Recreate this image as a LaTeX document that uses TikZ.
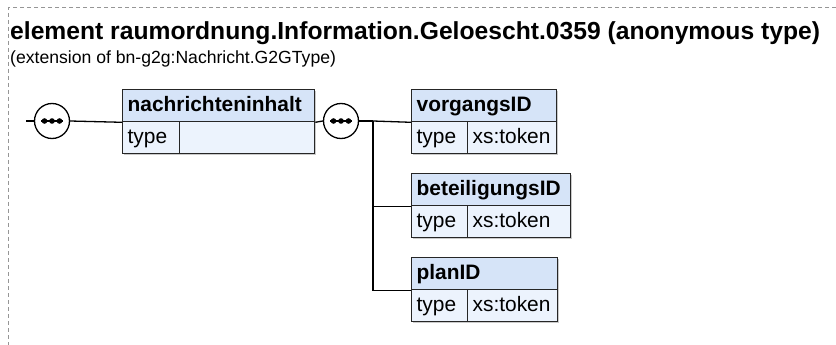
\documentclass[tikz,border=0pt]{standalone}
\usepackage{fontspec}
\setmainfont{Liberation Sans}
\usetikzlibrary{shadows}
\definecolor{hdrblue}{RGB}{214,228,248}
\definecolor{rowblue}{RGB}{236,243,253}
\definecolor{frame}{RGB}{150,150,150}
\tikzset{
  cell/.style={draw=black!85, line width=1.3pt, rectangle, anchor=north west,
    minimum height=32pt, inner xsep=5pt, inner ysep=0pt, align=left,
    text height=16pt, text depth=4pt,
    drop shadow={shadow xshift=1.5pt, shadow yshift=-1.5pt, fill=black!35, opacity=0.6}},
  hdrcell/.style={cell, fill=hdrblue, font=\fontsize{20.9}{24}\selectfont\bfseries},
  rowcell/.style={cell, fill=rowblue, font=\fontsize{20.9}{24}\selectfont},
  seqnode/.style={circle, draw=black, line width=1.3pt, fill=white, minimum size=35pt, inner sep=0pt},
  conn/.style={line width=1.3pt, black},
}
\newcommand{\seqdots}[1]{%
  \draw[line width=1.5pt] ([xshift=-11pt]#1.center) -- ([xshift=11pt]#1.center);
  \foreach \dx in {-7.5,0,7.5} \fill ([xshift=\dx pt]#1.center) circle (2.8pt);}
\begin{document}
\begin{tikzpicture}[x=1pt,y=-1pt]
\useasboundingbox (0,0) rectangle (836,345);
\draw[frame, line width=1pt, dash pattern=on 4pt off 3pt] (836,8) -- (8,8) -- (8,345);
\node[anchor=base west, inner sep=0pt, font=\fontsize{24.66}{28}\selectfont\bfseries] (title) at (10,40) {element raumordnung.Information.Geloescht.0359 (anonymous type)};
\node[anchor=base west, inner sep=0pt, font=\fontsize{17.6}{20}\selectfont] (sub) at (10,64) {(extension of bn-g2g:Nachricht.G2GType)};
% sequence 1
\coordinate (start) at (26,121);
\node[seqnode] (s1) at (52,121) {};
\seqdots{s1}
% nachrichteninhalt
\node[hdrcell, minimum width=192pt, text width=182pt] (nh) at (122,89) {nachrichteninhalt};
\node[rowcell, minimum width=57pt, text width=47pt] (nt) at (122,121) {type};
\node[rowcell, minimum width=135pt, text width=125pt] (nv) at (179,121) {};
% sequence 2
\node[seqnode] (s2) at (341,121) {};
\seqdots{s2}
\coordinate (j) at (373,121);
% vorgangsID
\node[hdrcell, minimum width=145pt, text width=135pt] (vh) at (411,89) {vorgangsID};
\node[rowcell, minimum width=56pt, text width=46pt] (vt) at (411,121) {type};
\node[rowcell, minimum width=89pt, text width=79pt] (vv) at (467,121) {xs:token};
% beteiligungsID
\node[hdrcell, minimum width=159pt, text width=149pt] (bh) at (411,173) {beteiligungsID};
\node[rowcell, minimum width=56pt, text width=46pt] (bt) at (411,205) {type};
\node[rowcell, minimum width=103pt, text width=93pt] (bv) at (467,205) {xs:token};
% planID
\node[hdrcell, minimum width=146pt, text width=136pt] (ph) at (411,257) {planID};
\node[rowcell, minimum width=56pt, text width=46pt] (pt) at (411,289) {type};
\node[rowcell, minimum width=90pt, text width=80pt] (pv) at (467,289) {xs:token};
% connectors
\draw[conn] (start) -- (s1.west);
\draw[conn] (s1.east) -- (nh.south west);
\draw[conn] (nh.south east) -- (s2.west);
\draw[conn] (s2.east) -- (j);
\draw[conn] (j) -- (vh.south west);
\draw[conn] (j) |- (bh.south west);
\draw[conn] (j) |- (ph.south west);
\end{tikzpicture}
\end{document}
